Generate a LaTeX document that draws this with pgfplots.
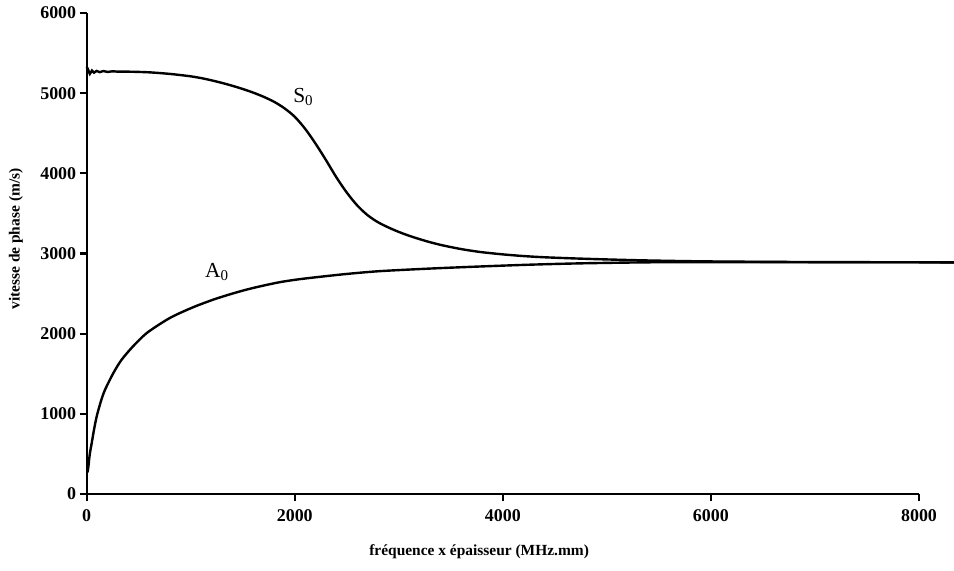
\documentclass[border=0pt]{standalone}
\usepackage{fontspec}
\setmainfont{Liberation Serif}
\usepackage{pgfplots}
\pgfplotsset{compat=1.18}
\begin{document}
\begin{tikzpicture}
\begin{axis}[
  scale only axis,
  width=832.3bp, height=481bp,
  xmin=0, xmax=8000, ymin=0, ymax=6000,
  axis x line*=bottom, axis y line*=left,
  axis line style={line width=2.2bp,-},
  every tick/.style={line width=2.2bp,black},
  major tick length=7bp,
  tick align=outside,
  xtick={0,2000,4000,6000,8000},
  ytick={0,1000,2000,3000,4000,5000,6000},
  minor tick num=0,
  scaled ticks=false,
  /pgf/number format/assume math mode=true,
  /pgf/number format/1000 sep={},
  tick label style={font=\fontsize{18}{18}\selectfont\bfseries},
  xticklabel style={yshift=-5bp},
  yticklabel style={xshift=0bp},
  xlabel={fréquence x épaisseur (MHz.mm)},
  ylabel={vitesse de phase (m/s)},
  xlabel style={font=\fontsize{15.5}{15.5}\selectfont\bfseries, at={(axis description cs:0.4715,-0.098)}, anchor=north},
  ylabel style={font=\fontsize{15.5}{15.5}\selectfont\bfseries, at={(axis description cs:-0.0725,0.53)}, anchor=south},
  clip=false,
]
\addplot[black, line width=2.4bp, smooth, tension=0.5] coordinates {
(0,5330) (12,5300) (30,5240) (50,5282) (70,5255) (95,5277) (125,5262) (160,5276) (200,5265) (250,5273) (300,5268) (400,5268) (500,5265) (600,5260) (700,5251) (800,5240) (900,5226) (1000,5210) (1100,5188) (1200,5160) (1300,5128) (1400,5092) (1500,5052) (1600,5007) (1700,4955) (1800,4893) (1900,4812) (2000,4705) (2100,4555) (2200,4370) (2300,4165) (2400,3950) (2500,3760) (2600,3600) (2700,3478) (2800,3390) (2900,3325) (3000,3269) (3100,3221) (3200,3179) (3300,3141) (3400,3108) (3500,3080) (3600,3055) (3700,3034) (3800,3016) (4000,2989) (4200,2968) (4400,2953) (4700,2938) (5000,2926) (5400,2913) (6000,2901) (7000,2893) (8340,2890)
};
\addplot[black, line width=2.4bp, smooth, tension=0.5] coordinates {
(8,270) (15,330) (30,500) (48,633) (70,800) (96,967) (135,1150) (176,1300) (256,1508) (330,1665) (416,1800) (500,1915) (577,2008) (700,2117) (800,2196) (897,2258) (1050,2344) (1218,2425) (1380,2492) (1538,2550) (1700,2600) (1859,2643) (2020,2675) (2179,2700) (2500,2745) (2820,2780) (3300,2812) (3782,2838) (4250,2860) (4743,2877) (5400,2890) (6000,2893) (7000,2891) (8340,2890)
};
\node[anchor=base west, font=\fontsize{21.5}{21.5}\selectfont, inner sep=0pt] at (axis cs:1984,4888) {S\textsubscript{0}};
\node[anchor=base west, font=\fontsize{21.5}{21.5}\selectfont, inner sep=0pt] at (axis cs:1137,2700) {A\textsubscript{0}};
\end{axis}
\pgfresetboundingbox
\path (-86.7bp,-77bp) rectangle (867.3bp,494bp);
\end{tikzpicture}
\end{document}
